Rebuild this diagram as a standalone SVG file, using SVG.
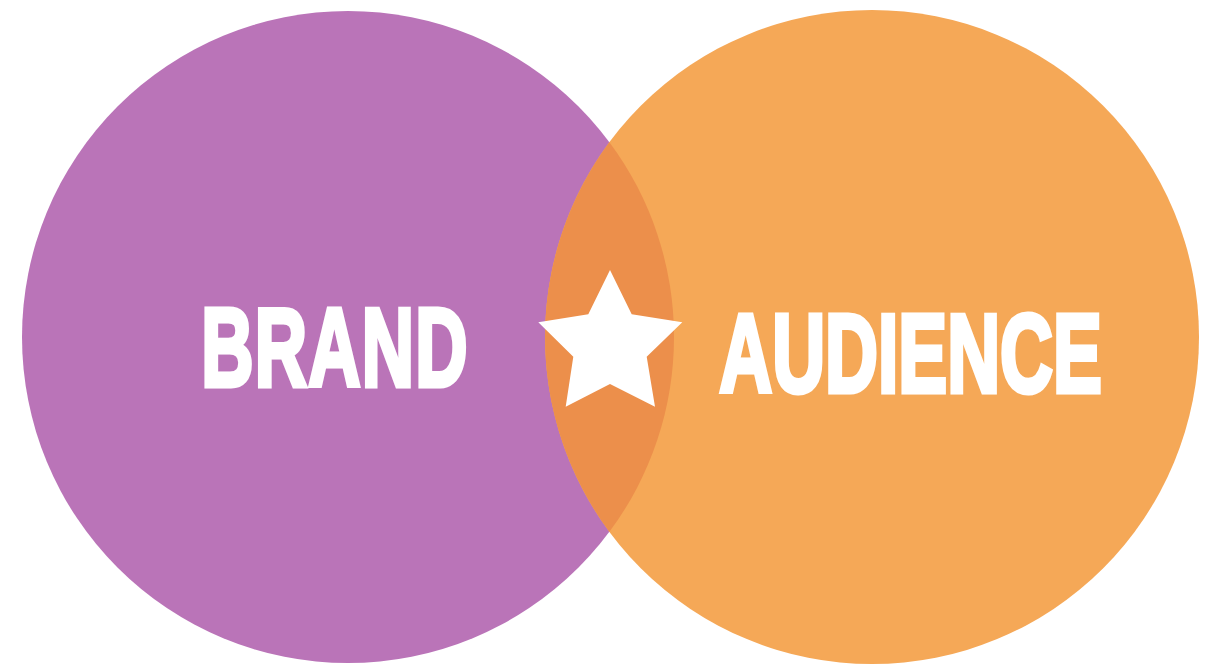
<svg xmlns="http://www.w3.org/2000/svg" width="1213" height="664" viewBox="0 0 1213 664">
  <style>
    .label { fill: #FFFFFF; stroke: #FFFFFF; stroke-width: 5; stroke-linejoin: miter; font-family: "Liberation Sans Narrow", "Liberation Sans", Arial, sans-serif; font-weight: bold; font-size: 112px; }
  </style>
  <rect x="0" y="0" width="1213" height="664" fill="#FFFFFF"/>
  <g id="brand">
    <circle cx="348" cy="337" r="326" fill="#BA74B8"/>
  </g>
  <g id="audience">
    <circle cx="872" cy="337" r="327" fill="#F5A857"/>
  </g>
  <g id="overlap">
    <path d="M 609.4 142.2 A 326 326 0 0 1 609.4 531.8 A 327 327 0 0 1 609.4 142.2 Z" fill="#EC8F4B"/>
  </g>
  <g id="brand-label">
    <text class="label" transform="translate(201.2,385.5) scale(0.646,1)" x="0" y="0" letter-spacing="2">BRAND</text>
  </g>
  <g id="audience-label">
    <text class="label" transform="translate(719.3,392) scale(0.654,1)" x="0" y="0">AUDIENCE</text>
  </g>
  <g id="star">
    <polygon points="610,270 631.7,314.3 682.3,322.3 646.7,356.7 655,406.7 610,384 565.7,406.7 573.3,356.7 538.3,322.3 588.3,314.3" fill="#FFFFFF"/>
  </g>
</svg>
